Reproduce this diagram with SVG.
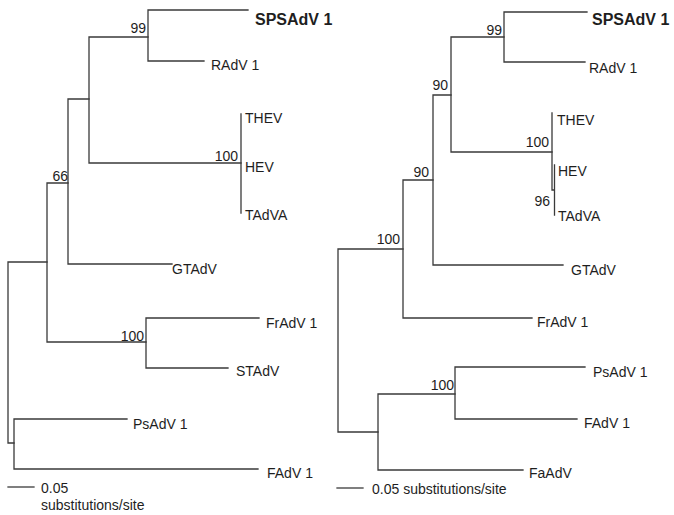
<svg xmlns="http://www.w3.org/2000/svg" width="674" height="515" viewBox="0 0 674 515">
<style>
.e{fill:none;stroke:#3a3a3a;stroke-width:1.3;stroke-linecap:square}
text{font-family:"Liberation Sans",Arial,sans-serif;font-size:14px;fill:#1e1e1e}
.b{font-weight:bold;font-size:16px}
.n{text-anchor:end}
</style>
<rect width="674" height="515" fill="#ffffff"/>
<g id="connectors">
<!-- left tree -->
<path class="e" d="M8,262V443M8,262H47M8,443H14"/>
<path class="e" d="M14,419V469M14,419H127M14,469H258"/>
<path class="e" d="M47,183V342M47,183H68M47,342H146"/>
<path class="e" d="M146,318V368M146,318H259M146,368H228"/>
<path class="e" d="M68,99V264M68,99H89M68,264H172"/>
<path class="e" d="M89,37V163M89,37H148M89,163H241"/>
<path class="e" d="M148,10V61M148,10H248M148,61H204"/>
<path class="e" d="M241,114V213"/>
<path class="e" d="M8,487H34"/>
<!-- right tree -->
<path class="e" d="M338,249V432M338,249H403M338,432H378"/>
<path class="e" d="M403,180V318M403,180H433M403,318H532"/>
<path class="e" d="M433,95V265M433,95H451M433,265H563"/>
<path class="e" d="M451,37V152M451,37H504M451,152H552"/>
<path class="e" d="M504,12V62M504,12H587M504,62H585"/>
<path class="e" d="M552,113V190H554.5M554.5,165V215"/>
<path class="e" d="M378,394V470M378,394H455M378,470H523"/>
<path class="e" d="M455,367V419M455,367H585M455,419H577"/>
<path class="e" d="M337,488H363"/>
</g>
<g id="left-tree">
<g id="L-SPSAdV1"><text class="b" x="255" y="25">SPSAdV 1</text></g>
<g id="L-RAdV1"><text x="211" y="70">RAdV 1</text></g>
<g id="L-THEV"><text x="245" y="123">THEV</text></g>
<g id="L-HEV"><text x="245" y="172">HEV</text></g>
<g id="L-TAdVA"><text x="245" y="220">TAdVA</text></g>
<g id="L-GTAdV"><text x="172" y="274">GTAdV</text></g>
<g id="L-FrAdV1"><text x="266" y="328">FrAdV 1</text></g>
<g id="L-STAdV"><text x="236" y="376">STAdV</text></g>
<g id="L-PsAdV1"><text x="133" y="429">PsAdV 1</text></g>
<g id="L-FAdV1"><text x="267" y="478">FAdV 1</text></g>
<g id="L-b99"><text class="n" x="146" y="33">99</text></g>
<g id="L-b100a"><text class="n" x="238" y="161">100</text></g>
<g id="L-b66"><text class="n" x="68" y="181">66</text></g>
<g id="L-b100b"><text class="n" x="144" y="341">100</text></g>
<g id="L-scale"><text x="41" y="493">0.05</text><text x="41" y="510">substitutions/site</text></g>
</g>
<g id="right-tree">
<g id="R-SPSAdV1"><text class="b" x="592" y="25">SPSAdV 1</text></g>
<g id="R-RAdV1"><text x="589" y="73">RAdV 1</text></g>
<g id="R-THEV"><text x="557" y="125">THEV</text></g>
<g id="R-HEV"><text x="558" y="176">HEV</text></g>
<g id="R-TAdVA"><text x="558" y="221">TAdVA</text></g>
<g id="R-GTAdV"><text x="571" y="275">GTAdV</text></g>
<g id="R-FrAdV1"><text x="537" y="327">FrAdV 1</text></g>
<g id="R-PsAdV1"><text x="593" y="377">PsAdV 1</text></g>
<g id="R-FAdV1"><text x="584" y="428">FAdV 1</text></g>
<g id="R-FaAdV"><text x="529" y="478">FaAdV</text></g>
<g id="R-b99"><text class="n" x="502" y="35">99</text></g>
<g id="R-b90a"><text class="n" x="448" y="90">90</text></g>
<g id="R-b100a"><text class="n" x="549" y="147">100</text></g>
<g id="R-b96"><text class="n" x="550" y="206">96</text></g>
<g id="R-b90b"><text class="n" x="429" y="177">90</text></g>
<g id="R-b100b"><text class="n" x="400" y="244">100</text></g>
<g id="R-b100c"><text class="n" x="454" y="390">100</text></g>
<g id="R-scale"><text x="372" y="494">0.05 substitutions/site</text></g>
</g>
</svg>
